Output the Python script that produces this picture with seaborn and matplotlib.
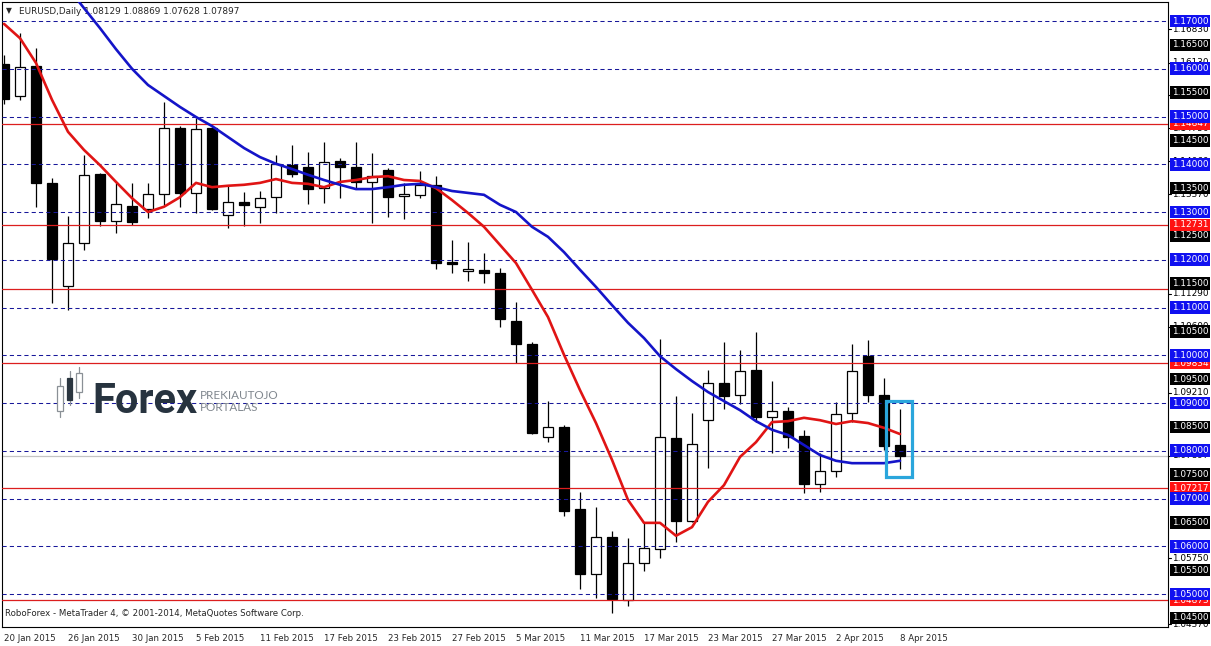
import numpy as np
import pandas as pd
import seaborn as sns
import matplotlib.pyplot as plt
from matplotlib.patches import Rectangle

abertura = [1.1610, 1.1543, 1.1606, 1.1361, 1.1145, 1.1235, 1.1380, 1.1281, 1.1313, 1.1306,
            1.1338, 1.1476, 1.1340, 1.1476, 1.1294, 1.1321, 1.1311, 1.1331, 1.1398, 1.1394,
            1.1350, 1.1407, 1.1394, 1.1363, 1.1388, 1.1334, 1.1336, 1.1357, 1.1195, 1.1176,
            1.1179, 1.1172, 1.1072, 1.1024, 1.0829, 1.0850, 1.0678, 1.0542, 1.0619, 1.0488,
            1.0565, 1.0594, 1.0827, 1.0653, 1.0864, 1.0942, 1.0917, 1.0969, 1.0871, 1.0883,
            1.0831, 1.0730, 1.0758, 1.0879, 1.0998, 1.0917, 1.08129]
maxima = [1.1629, 1.1675, 1.1644, 1.1371, 1.1292, 1.1419, 1.1382, 1.1361, 1.1361, 1.1361,
          1.1530, 1.1480, 1.1497, 1.1478, 1.1355, 1.1342, 1.1344, 1.1419, 1.1440, 1.1426,
          1.1447, 1.1413, 1.1447, 1.1424, 1.1392, 1.1361, 1.1386, 1.1375, 1.1241, 1.1237,
          1.1214, 1.1183, 1.1112, 1.1028, 1.0904, 1.0854, 1.0714, 1.0682, 1.0632, 1.0617,
          1.0649, 1.1034, 1.0915, 1.0879, 1.0969, 1.1028, 1.1011, 1.1049, 1.0946, 1.0892,
          1.0844, 1.0795, 1.0902, 1.1024, 1.1032, 1.0952, 1.08869]
minima = [1.1526, 1.1535, 1.1310, 1.1109, 1.1095, 1.1220, 1.1271, 1.1256, 1.1273, 1.1287,
          1.1315, 1.1311, 1.1298, 1.1304, 1.1267, 1.1271, 1.1277, 1.1298, 1.1373, 1.1317,
          1.1319, 1.1329, 1.1350, 1.1277, 1.1290, 1.1285, 1.1329, 1.1181, 1.1172, 1.1156,
          1.1151, 1.1059, 1.0984, 1.0835, 1.0818, 1.0663, 1.0511, 1.0492, 1.0460, 1.0475,
          1.0548, 1.0575, 1.0609, 1.0651, 1.0764, 1.0888, 1.0898, 1.0860, 1.0795, 1.0806,
          1.0712, 1.0714, 1.0745, 1.0860, 1.0902, 1.0802, 1.07628]
fechamento = [1.1537, 1.1604, 1.1361, 1.1202, 1.1235, 1.1378, 1.1281, 1.1317, 1.1279, 1.1338,
              1.1476, 1.1340, 1.1474, 1.1306, 1.1321, 1.1315, 1.1330, 1.1400, 1.1380, 1.1348,
              1.1405, 1.1394, 1.1363, 1.1375, 1.1331, 1.1338, 1.1357, 1.1193, 1.1191, 1.1181,
              1.1172, 1.1076, 1.1024, 1.0837, 1.0850, 1.0674, 1.0542, 1.0619, 1.0490, 1.0565,
              1.0596, 1.0829, 1.0653, 1.0814, 1.0942, 1.0915, 1.0967, 1.0871, 1.0883, 1.0829,
              1.0730, 1.0758, 1.0877, 1.0967, 1.0917, 1.0810, 1.07897]

# médias móveis (vermelha desde a barra 0, azul desde a barra 4)
media_vermelha = [1.1694, 1.1664, 1.1612, 1.1535, 1.1468, 1.1430, 1.1398, 1.1363, 1.1329, 1.1300,
                  1.1311, 1.1331, 1.1361, 1.1352, 1.1355, 1.1357, 1.1361, 1.1369, 1.1361, 1.1359,
                  1.1352, 1.1363, 1.1367, 1.1373, 1.1375, 1.1367, 1.1365, 1.1350, 1.1325, 1.1298,
                  1.1269, 1.1231, 1.1193, 1.1137, 1.1080, 1.1001, 1.0927, 1.0858, 1.0781, 1.0697,
                  1.0649, 1.0649, 1.0622, 1.0640, 1.0693, 1.0728, 1.0787, 1.0818, 1.0860, 1.0862,
                  1.0869, 1.0864, 1.0856, 1.0862, 1.0858, 1.0848, 1.0835]
inicio_azul = 4
media_azul = [1.1769, 1.1727, 1.1685, 1.1641, 1.1600, 1.1566, 1.1543, 1.1520, 1.1499, 1.1480,
              1.1457, 1.1434, 1.1415, 1.1401, 1.1390, 1.1378, 1.1367, 1.1357, 1.1348, 1.1348,
              1.1352, 1.1357, 1.1359, 1.1352, 1.1344, 1.1340, 1.1336, 1.1315, 1.1300, 1.1269,
              1.1248, 1.1216, 1.1179, 1.1143, 1.1105, 1.1068, 1.1036, 1.0998, 1.0971, 1.0946,
              1.0923, 1.0904, 1.0885, 1.0862, 1.0844, 1.0833, 1.0812, 1.0791, 1.0779, 1.0774,
              1.0774, 1.0774, 1.0779]

datas_eixo = ["20 Jan 2015", "26 Jan 2015", "30 Jan 2015", "5 Feb 2015", "11 Feb 2015",
              "17 Feb 2015", "23 Feb 2015", "27 Feb 2015", "5 Mar 2015", "11 Mar 2015",
              "17 Mar 2015", "23 Mar 2015", "27 Mar 2015", "2 Apr 2015", "8 Apr 2015"]

niveis_azuis = [1.17, 1.16, 1.15, 1.14, 1.13, 1.12, 1.11, 1.10, 1.09, 1.08, 1.07, 1.06, 1.05]
niveis_vermelhos = [1.14847, 1.12731, 1.11387, 1.09834, 1.07217, 1.04873]
rotulos_vermelhos = [1.14847, 1.12731, 1.09834, 1.07217, 1.04873]
niveis_pretos = [1.165, 1.155, 1.145, 1.135, 1.125, 1.115, 1.105, 1.095, 1.085, 1.075,
                 1.065, 1.055, 1.045]
# rótulos da escala que ainda aparecem por trás das caixas
escala_precos = [1.1683, 1.1613, 1.1544, 1.1475, 1.1406, 1.1337, 1.1129, 1.1060, 1.0921,
                 1.07897, 1.0575, 1.0437]
preco_atual = 1.07897
caixa_destaque = [1.0745, 1.0904]

cabecalho = "EURUSD,Daily 1.08129 1.08869 1.07628 1.07897"
rodape = "RoboForex - MetaTrader 4, © 2001-2014, MetaQuotes Software Corp."


class GraficoCandlesPlotter:
    def __init__(self, largura_px=1211, altura_px=646):
        """
        Inicializa o plotter com o tamanho da figura em pixels.
        """
        self.largura_px = largura_px
        self.altura_px = altura_px
        # área do gráfico em pixels (esquerda, direita, topo, base)
        self.area = (2, 1168, 2, 627)

    def montar_dados(self):
        """
        Monta o DataFrame com as velas e as médias móveis.
        """
        dados = pd.DataFrame({
            "abertura": abertura, "maxima": maxima,
            "minima": minima, "fechamento": fechamento,
            "media_vermelha": media_vermelha,
        })
        dados["barra"] = np.arange(len(dados))
        dados["media_azul"] = [np.nan] * inicio_azul + media_azul
        return dados

    def frac(self, x, y):
        """Converte pixels da tela em fração dos eixos (só para o logotipo e textos)."""
        esq, dir_, topo, base = self.area
        return (x - esq) / (dir_ - esq), (base - y) / (base - topo)

    def plotar(self, dados):
        sns.set_style("white")
        plt.rcParams["font.family"] = ["DejaVu Sans"]

        fig = plt.figure(figsize=(self.largura_px / 100, self.altura_px / 100), dpi=100)
        esq, dir_, topo, base = self.area
        ax = fig.add_axes([esq / self.largura_px, (self.altura_px - base) / self.altura_px,
                           (dir_ - esq) / self.largura_px, (base - topo) / self.altura_px])

        # linhas horizontais
        for nivel in niveis_azuis:
            ax.axhline(nivel, color="#18189a", lw=0.75, ls=(0, (4, 3)), zorder=4)
        for nivel in niveis_vermelhos:
            ax.axhline(nivel, color="#dc1e1e", lw=0.9, zorder=4)
        ax.axhline(preco_atual, color="#c4c4c4", lw=0.9, zorder=1)

        # velas
        alta = dados["fechamento"] >= dados["abertura"]
        ax.vlines(dados["barra"], dados["minima"], dados["maxima"], color="black", lw=0.9, zorder=2)
        corpo = (dados["fechamento"] - dados["abertura"]).abs().clip(lower=0.00025)
        fundo = dados[["abertura", "fechamento"]].min(axis=1)
        ax.bar(dados["barra"], corpo, bottom=fundo, width=0.62,
               color=np.where(alta, "white", "black"), edgecolor="black", linewidth=0.9, zorder=3)

        # médias móveis
        sns.lineplot(data=dados, x="barra", y="media_vermelha", color="#e01414",
                     linewidth=1.9, ax=ax, zorder=6)
        sns.lineplot(data=dados.dropna(subset=["media_azul"]), x="barra", y="media_azul",
                     color="#1414c8", linewidth=1.9, ax=ax, zorder=6)

        # retângulo de destaque na última vela
        ultima = dados["barra"].iloc[-1]
        ax.add_patch(Rectangle((ultima - 0.87, caixa_destaque[0]), 1.62,
                               caixa_destaque[1] - caixa_destaque[0], fill=False,
                               ec="#2aa6dc", lw=2.3, zorder=7))

        ax.set_xlim(-0.125, 72.75)
        ax.set_ylim(1.04309, 1.17398)
        ax.set_xlabel("")
        ax.set_ylabel("")

        # eixo de datas (uma marca a cada 4 barras)
        ax.set_xticks(np.arange(len(datas_eixo)) * 4)
        ax.set_xticklabels(datas_eixo, ha="left", fontsize=6.2)
        ax.tick_params(axis="x", direction="out", length=3.5, width=0.8, pad=1.5, color="black")
        ax.set_yticks([])
        for lado in ax.spines.values():
            lado.set_color("black")
            lado.set_linewidth(0.8)

        # rótulos de preço à direita: escala, pretos, vermelhos, azuis
        trans = ax.get_yaxis_transform()
        x_rot = 1 + 4 / (dir_ - esq)
        for v in escala_precos:
            ax.text(x_rot, v, f"{v:.5f}", transform=trans, fontsize=6.4, va="center",
                    ha="left", color="black", clip_on=False)
            ax.plot([1, 1 + 3 / (dir_ - esq)], [v, v], transform=trans, color="black",
                    lw=0.8, clip_on=False)
        grupos = [(niveis_pretos, "black"), (rotulos_vermelhos, "#ff1212"), (niveis_azuis, "#1010f0")]
        for niveis, cor in grupos:
            for v in niveis:
                ax.text(x_rot, v, f"{v:.5f}", transform=trans, fontsize=6.4, va="center",
                        ha="left", color="white", clip_on=False,
                        bbox=dict(boxstyle="square,pad=0.2", fc=cor, ec="none"))

        # cabeçalho e rodapé
        ax.text(*self.frac(6, 11), "▼", transform=ax.transAxes, fontsize=5.5, va="center")
        ax.text(*self.frac(19, 11), cabecalho, transform=ax.transAxes, fontsize=6.4, va="center")
        ax.text(*self.frac(5, 613), rodape, transform=ax.transAxes, fontsize=6.2, va="center")

        # logotipo "Forex" (marca d'água)
        ax.text(*self.frac(92, 413), "Forex", transform=ax.transAxes, fontsize=30,
                family=["Roboto", "DejaVu Sans"], fontweight="bold", color="#27333f",
                va="baseline", zorder=5)
        ax.text(*self.frac(200, 399), "PREKIAUTOJO", transform=ax.transAxes, fontsize=8.4,
                color="#80878e", va="baseline", family=["Lato", "DejaVu Sans"], zorder=5)
        ax.text(*self.frac(200, 411), "PORTALAS", transform=ax.transAxes, fontsize=8.4,
                color="#80878e", va="baseline", family=["Lato", "DejaVu Sans"], zorder=5)
        icone = [(57, 63, 386, 411, 378, 417, False), (67, 72, 378, 400, 371, 405, True),
                 (76, 82, 373, 392, 367, 398, False)]
        for x0, x1, ct, cb, pt, pb, cheio in icone:
            xm = (x0 + x1) / 2
            ax.plot([self.frac(xm, pt)[0]] * 2, [self.frac(xm, pt)[1], self.frac(xm, pb)[1]],
                    transform=ax.transAxes, color="#8a9096", lw=0.9, zorder=5)
            fx0, fyb = self.frac(x0, cb)
            fx1, fyt = self.frac(x1, ct)
            ax.add_patch(Rectangle((fx0, fyb), fx1 - fx0, fyt - fyb, transform=ax.transAxes,
                                   fc="#2b3640" if cheio else "white",
                                   ec="#2b3640" if cheio else "#8a9096", lw=0.9, zorder=6))

        fig.savefig("out.png", dpi=100)
        plt.close(fig)

    def executar(self):
        dados = self.montar_dados()
        self.plotar(dados)


plotter = GraficoCandlesPlotter()
plotter.executar()
